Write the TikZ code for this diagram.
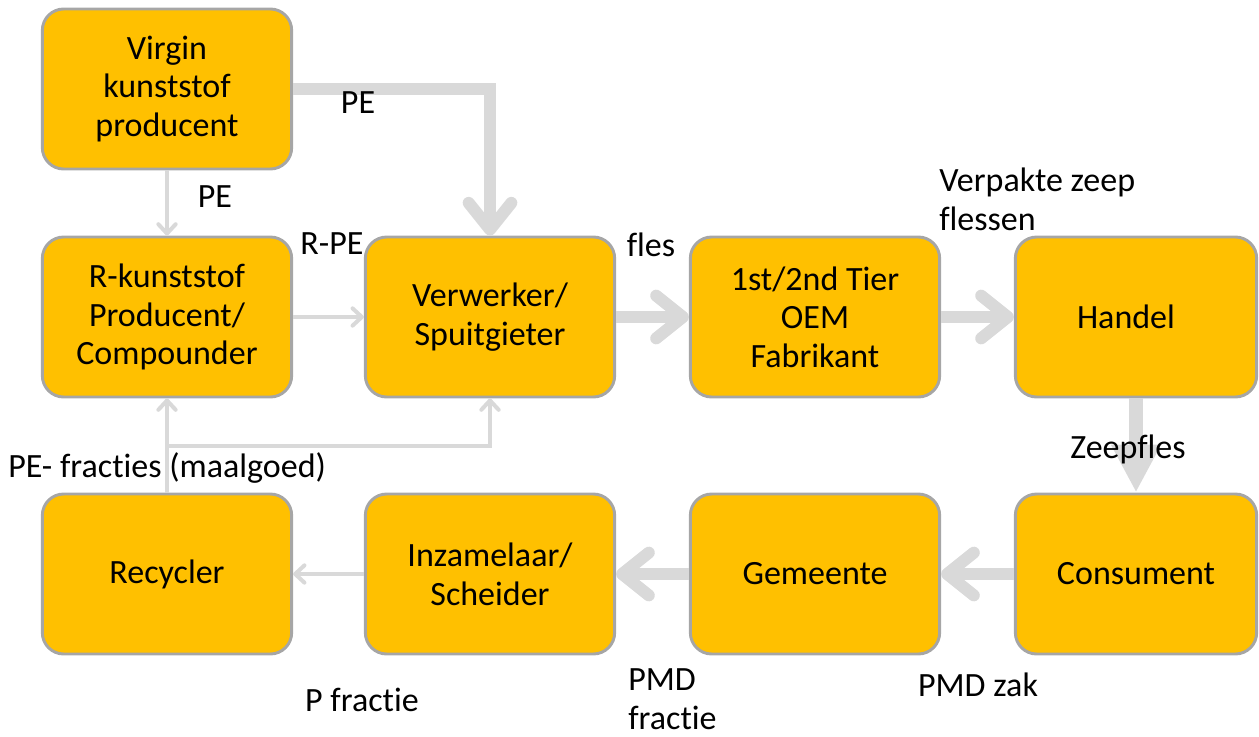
\documentclass[tikz,border=0pt]{standalone}
\usepackage{fontspec}
\setmainfont{Carlito}[RawFeature=-liga]
\usetikzlibrary{arrows.meta,calc}
\definecolor{gold}{HTML}{FFC000}
\definecolor{bordergray}{HTML}{A6A6A6}
\definecolor{arrowgray}{HTML}{D9D9D9}
\begin{document}
\begin{tikzpicture}[x=0.75pt,y=-0.75pt,
  font=\fontsize{25.5}{29}\selectfont,
  box/.style={draw=bordergray, fill=gold, line width=2.2pt, rounded corners=16pt,
    minimum width=187pt, minimum height=120pt, align=center, inner sep=0pt},
  widebox/.style={box, minimum width=181pt},
  thickarrow/.style={draw=arrowgray, line width=9pt,
    -{Straight Barb[round,length=20pt,width=32pt]}},
  thinarrow/.style={draw=arrowgray, line width=3pt,
    -{Straight Barb[round,length=7pt,width=13pt]}},
  bigarrow/.style={draw=arrowgray, line width=10pt, -{Triangle[length=36pt,width=35pt]}},
  lbl/.style={inner sep=0pt, align=left}]
\useasboundingbox (0,0) rectangle (1259,736);

% boxes
\node[box] (virgin) at (167,89) {Virgin\\kunststof\\producent};
\node[box] (rk) at (167,317) {R-kunststof\\Producent/\\Compounder};
\node[box] (verw) at (490,317) {Verwerker/\\Spuitgieter};
\node[box] (tier) at (815,317) {1st/2nd Tier\\OEM\\Fabrikant};
\node[widebox] (handel) at (1136,317) {Handel\hspace*{15pt}};
\node[box] (rec) at (167,574) {Recycler};
\node[box] (inz) at (490,574) {Inzamelaar/\\Scheider};
\node[box] (gem) at (815,574) {Gemeente};
\node[widebox] (cons) at (1136,574) {Consument};

% connectors
\draw[thickarrow] (virgin.east) -| (verw.north);
\draw[thinarrow] (virgin.south) -- (rk.north);
\draw[thinarrow] (rk.east) -- (verw.west);
\draw[thickarrow] (verw.east) -- (tier.west);
\draw[thickarrow] (tier.east) -- (handel.west);
\draw[bigarrow] (handel.south) -- (cons.north);
\draw[thickarrow] (cons.west) -- (gem.east);
\draw[thickarrow] (gem.west) -- (inz.east);
\draw[thinarrow] (inz.west) -- (rec.east);
\draw[thinarrow] (rec.north) -- (rk.south);
\coordinate (split) at ($(rec.north)!0.5!(rk.south)$);
\draw[thinarrow] (split) -| (verw.south);

% labels
\node[lbl] (l1) at (358,103) {PE};
\node[lbl] (l2) at (215,197) {PE};
\node[lbl] (l3) at (332,244) {R-PE};
\node[lbl] (l4) at (651,245) {fles};
\node[lbl, anchor=west] (l5) at (939,199) {Verpakte zeep\\flessen};
\node[lbl] (l6) at (1128,449) {Zeepfles};
\node[lbl, anchor=west] (l7) at (8,468) {PE- fracties (maalgoed)};
\node[lbl] (l8) at (362,700) {P fractie};
\node[lbl, anchor=west] (l9) at (628,699) {PMD\\fractie};
\node[lbl] (l10) at (978,685) {PMD zak};
\end{tikzpicture}
\end{document}
